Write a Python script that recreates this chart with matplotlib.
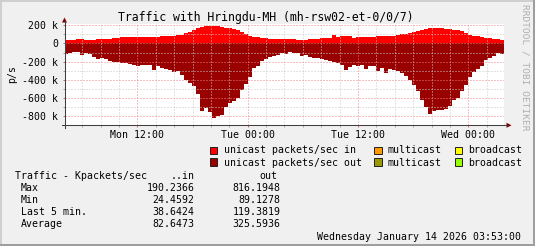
import numpy as np
import matplotlib
matplotlib.use("Agg")
import matplotlib.pyplot as plt
from matplotlib.lines import Line2D
from matplotlib.patches import Rectangle, Polygon

# ---------------- data (Kpackets/sec) ----------------
unicast_in_k = [41, 41, 37, 44, 51, 33, 37, 40, 44, 51, 51, 51, 55, 59, 66, 66, 66, 66, 70, 70,
                70, 73, 70, 73, 81, 77, 77, 80, 88, 96, 114, 121, 143, 169, 180, 187, 190, 190, 190, 186,
                175, 165, 154, 143, 121, 99, 85, 70, 66, 59, 55, 51, 51, 51, 48, 48, 44, 44, 40, 33,
                33, 48, 48, 51, 59, 59, 62, 95, 70, 85, 85, 77, 59, 70, 70, 70, 70, 70, 77, 77,
                81, 85, 85, 90, 99, 106, 114, 121, 132, 143, 158, 169, 169, 169, 169, 161, 158, 150, 143, 132,
                114, 96, 85, 77, 70, 62, 59, 51, 48, 40]
unicast_out_k = [-121, -106, -98, -95, -124, -106, -113, -150, -168, -164, -176, -198, -201, -209, -216, -220, -231, -242, -245, -238,
                 -238, -242, -289, -253, -271, -282, -293, -311, -307, -344, -399, -436, -472, -560, -740, -710, -758, -816, -803, -786,
                 -700, -656, -637, -600, -516, -443, -370, -271, -245, -198, -168, -150, -135, -128, -106, -121, -95, -106, -106, -142,
                 -131, -150, -161, -164, -172, -179, -198, -209, -216, -238, -289, -260, -234, -253, -238, -282, -245, -253, -307, -271,
                 -326, -278, -289, -300, -326, -362, -399, -454, -527, -619, -700, -773, -747, -736, -729, -722, -692, -626, -604, -527,
                 -454, -370, -318, -282, -245, -179, -157, -135, -106, -120]

t_start_h, t_end_h = 4.07, 51.883          # hours after Mon 00:00
major_ticks_h = [12, 24, 36, 48]
major_labels = ["Mon 12:00", "Tue 00:00", "Tue 12:00", "Wed 00:00"]
ytick_vals = [200, 0, -200, -400, -600, -800]
ytick_labels = ["200 k", "0", "-200 k", "-400 k", "-600 k", "-800 k"]

title = "Traffic with Hringdu-MH (mh-rsw02-et-0/0/7)"
legend_rows = [["unicast packets/sec in", "multicast", "broadcast"],
               ["unicast packets/sec out", "multicast", "broadcast"]]
legend_colors = [["#FF0000", "#FF9900", "#FFFF00"],
                 ["#990000", "#999900", "#99FF00"]]
stats_header = ["Traffic - Kpackets/sec", "..in", "out"]
stats_names = ["Max", "Min", "Last 5 min.", "Average"]
stats_in = ["190.2366", "24.4592", "38.6424", "82.6473"]
stats_out = ["816.1948", "89.1278", "119.3819", "325.5936"]
date_text = "Wednesday January 14 2026 03:53:00"
watermark = "RRDTOOL / TOBI OETIKER"

# ---------------- figure ----------------
W, H = 535, 246
plt.rcParams["font.family"] = ["DejaVu Sans Mono"]
plt.rcParams["lines.scale_dashes"] = False
fig = plt.figure(figsize=(W / 100, H / 100), dpi=100)
fig.patch.set_facecolor("#F0F0F0")


def fx(x):
    return x / W


def fy(y):
    return 1 - y / H


L, R, T, B = 64.5, 504.0, 24.0, 125.3
ax = fig.add_axes([fx(L), fy(B), (R - L) / W, (B - T) / H])
ax.set_facecolor("white")

n = len(unicast_in_k)
t_edges = np.linspace(t_start_h, t_end_h, n + 1)
yin = np.append(unicast_in_k, unicast_in_k[-1])
yout = np.append(unicast_out_k, unicast_out_k[-1])
ax.fill_between(t_edges, yin, 0, step="post", color="#FF0000", lw=0, zorder=1)
ax.fill_between(t_edges, yout, 0, step="post", color="#990000", lw=0, zorder=1)

ax.set_xlim(t_start_h, t_end_h)
ax.set_ylim(-900, 214)

ax.set_xticks(major_ticks_h, major_labels)
ax.set_xticks(np.arange(6, 52, 2), minor=True)
ax.set_yticks(ytick_vals, ytick_labels)
ax.set_yticks(np.arange(-900, 201, 100), minor=True)

ax.set_axisbelow(False)
dash = (0, (0.72, 1.44))
ax.grid(which="minor", color="#C8C8C8", lw=0.72, linestyle=dash, zorder=3)
ax.grid(which="major", color="#F08080", lw=0.72, linestyle=dash, zorder=3)

ax.tick_params(axis="both", which="major", labelsize=7.1, length=1.5, width=0.7,
               color="#E06060", direction="out")
ax.tick_params(axis="both", which="minor", length=1.2, width=0.7, color="#A0A0A0",
               direction="out")
ax.tick_params(axis="x", which="major", pad=2.2)
ax.tick_params(axis="y", which="major", pad=3.0)

for s in ax.spines.values():
    s.set_visible(False)

# axes lines with arrows (decoration)
axis_col = "#404040"
fig.add_artist(Line2D([fx(62), fx(507)], [fy(B), fy(B)], color=axis_col, lw=0.75))
fig.add_artist(Line2D([fx(L), fx(L)], [fy(128), fy(21)], color=axis_col, lw=0.75))
fig.add_artist(Polygon([[fx(506.5), fy(B - 2.5)], [fx(511.5), fy(B)], [fx(506.5), fy(B + 2.5)]],
                       closed=True, color="#800000", lw=0))
fig.add_artist(Polygon([[fx(L - 2.5), fy(22.5)], [fx(L), fy(17.5)], [fx(L + 2.5), fy(22.5)]],
                       closed=True, color="#800000", lw=0))

# title and labels
fig.text(fx(266), fy(21), title, ha="center", va="baseline", fontsize=8.3)
fig.text(fx(12.5), fy(74), "p/s", rotation=90, ha="center", va="center", fontsize=7.1)
fig.text(fx(525.5), fy(4.5), watermark, rotation=270, ha="center", va="top",
         fontsize=6.8, color="#B0B0B0")

# legend
sq_x = [209.8, 374.3, 454.8]
txt_x = [223.5, 387.9, 467.8]
sq_y = [146.5, 158.4]
base_y = [153.3, 165.6]
for r in range(2):
    for c in range(3):
        fig.add_artist(Rectangle((fx(sq_x[c]), fy(sq_y[r] + 7.5)), 7.5 / W, 7.5 / H,
                                 facecolor=legend_colors[r][c], edgecolor="#202020", lw=0.7))
        fig.text(fx(txt_x[c]), fy(base_y[r]), legend_rows[r][c], ha="left", va="baseline",
                 fontsize=7.1)

# statistics
fig.text(fx(14.7), fy(178.6), stats_header[0], ha="left", va="baseline", fontsize=7.1)
fig.text(fx(194.5), fy(178.6), stats_header[1], ha="right", va="baseline", fontsize=7.1)
fig.text(fx(277.4), fy(178.6), stats_header[2], ha="right", va="baseline", fontsize=7.1)
row_y = [190.8, 203.1, 215.1, 227.4]
for name, vin, vout, yy in zip(stats_names, stats_in, stats_out, row_y):
    fig.text(fx(20.8), fy(yy), name, ha="left", va="baseline", fontsize=7.1)
    fig.text(fx(194.5), fy(yy), vin, ha="right", va="baseline", fontsize=7.1)
    fig.text(fx(280.4), fy(yy), vout, ha="right", va="baseline", fontsize=7.1)

fig.text(fx(521), fy(239.6), date_text, ha="right", va="baseline", fontsize=7.1)

# 3D frame
fig.add_artist(Rectangle((0, fy(2)), 1, 2 / H, color="#CFCFCF", lw=0))
fig.add_artist(Rectangle((0, 0), 2 / W, 1, color="#CFCFCF", lw=0))
fig.add_artist(Rectangle((0, 0), 1, 2 / H, color="#9E9E9E", lw=0))
fig.add_artist(Rectangle((fx(W - 2), 0), 2 / W, 1, color="#9E9E9E", lw=0))

fig.savefig("out.png", dpi=100, facecolor=fig.get_facecolor())
